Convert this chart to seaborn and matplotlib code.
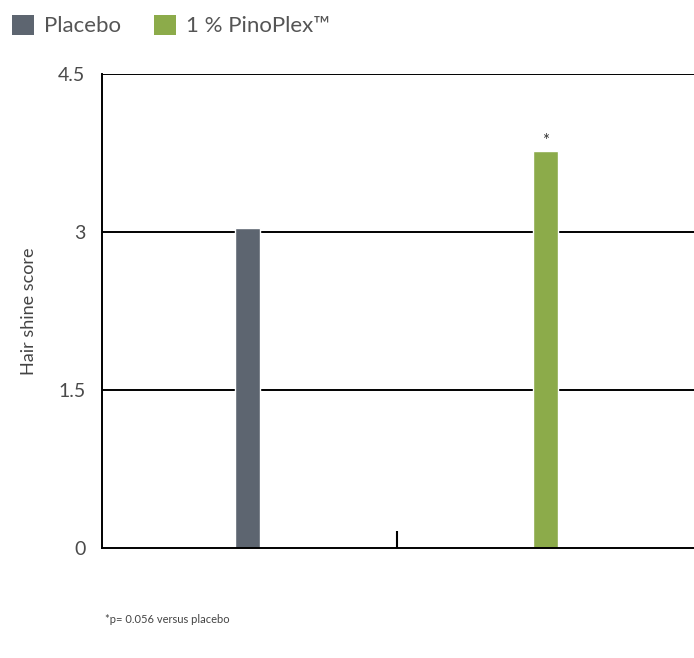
import matplotlib
matplotlib.use("Agg")
import matplotlib.pyplot as plt
import seaborn as sns
import pandas as pd
from matplotlib.patches import Patch

# data
groups = ["Placebo", "1 % PinoPlex\u2122"]
scores = [3.04, 3.77]
bar_colors = ["#5d6570", "#8cab4a"]
y_ticks = [0, 1.5, 3, 4.5]
y_tick_labels = ["0", "1.5", "3", "4.5"]
stars = ["", "*"]

df = pd.DataFrame({"group": groups, "score": scores})

sns.set_theme(style="white")
plt.rcParams["font.family"] = ["Lato", "DejaVu Sans"]

fig = plt.figure(figsize=(6.94, 6.58), dpi=100)
ax = fig.add_axes([0.147, 0.167, 0.853, 0.7207])

sns.barplot(data=df, x="group", y="score", hue="group",
            palette=bar_colors, width=0.085, dodge=False,
            legend=False, ax=ax, saturation=1)

ax.set_xlim(-0.49, 1.5)
ax.set_ylim(0, 4.5)
ax.set_yticks(y_ticks)
ax.set_yticklabels(y_tick_labels, fontsize=14, color="#4a4a4a")
ax.tick_params(axis="y", left=False, pad=6)

# small tick between the bars
ax.set_xticks([0.5])
ax.set_xticklabels([""])
ax.tick_params(axis="x", bottom=True, direction="in", length=12, width=1.5, color="black")
ax.set_xlabel("")
ax.set_ylabel("Hair shine score", fontsize=13, color="#444444", labelpad=15)

# grid lines at 1.5 / 3 / 4.5
for yv in y_ticks[1:]:
    ax.axhline(yv, color="black", linewidth=1.4, zorder=0)

for s in ["top", "right"]:
    ax.spines[s].set_visible(False)
for s in ["left", "bottom"]:
    ax.spines[s].set_color("black")
    ax.spines[s].set_linewidth(1.4)

for i, (v, st) in enumerate(zip(scores, stars)):
    if st:
        ax.text(i, v + 0.02, st, ha="center", va="bottom", fontsize=12, color="#333333")

handles = [Patch(facecolor=c, edgecolor="none") for c in bar_colors]
fig.legend(handles, groups, loc="upper left", bbox_to_anchor=(-0.012, 1.008),
           ncol=2, frameon=False, handlelength=1.0,
           handleheight=1.0, columnspacing=1.5, handletextpad=0.45,
           labelcolor="#555555", prop={"size": 16})

fig.text(0.151, 0.053, "*p= 0.056 versus placebo", fontsize=8, color="#444444")

plt.savefig("out.png", dpi=100)
